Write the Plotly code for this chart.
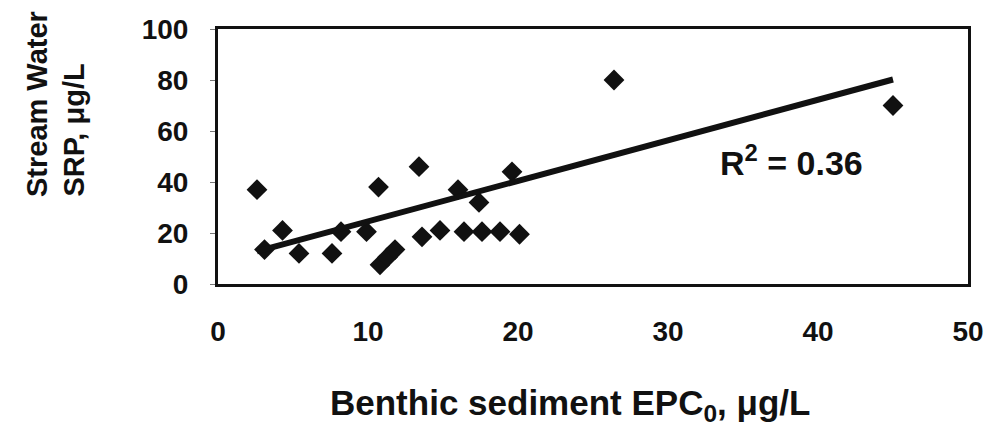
import plotly.graph_objects as go

# Data
epc0 = [2.6, 3.1, 4.3, 5.4, 7.6, 8.2, 9.9, 10.7, 10.8, 11.3, 11.8, 13.4, 13.6,
        14.8, 16.0, 16.4, 17.4, 17.6, 18.8, 19.6, 20.1, 26.4, 45.0]
srp = [37, 13.5, 21, 12, 12, 20.5, 20.5, 38, 7.5, 10.5, 13.5, 46, 18.5,
       21, 37, 20.5, 32, 20.5, 20.5, 44, 19.5, 80, 70]
trend_x = [2.6, 45.0]
trend_y = [12.8, 80.2]
r2_text = "R<sup>2</sup> = 0.36"
x_ticks = [0, 10, 20, 30, 40, 50]
y_ticks = [0, 20, 40, 60, 80, 100]

FONT = "Liberation Sans, Arial, sans-serif"

fig = go.Figure()
fig.add_trace(go.Scatter(
    x=epc0, y=srp, mode="markers",
    marker=dict(symbol="diamond", size=16, color="#111111", line=dict(width=0)),
    showlegend=False, hoverinfo="skip"))
fig.add_trace(go.Scatter(
    x=trend_x, y=trend_y, mode="lines",
    line=dict(color="#111111", width=6),
    showlegend=False, hoverinfo="skip"))

fig.update_layout(
    width=996, height=428,
    margin=dict(l=218, r=20, t=29, b=144),
    paper_bgcolor="white", plot_bgcolor="white",
    font=dict(family=FONT, color="#111111"),
)
fig.update_xaxes(
    range=[0, 50], tickvals=x_ticks, showgrid=False, zeroline=False,
    showline=True, mirror=True, linecolor="#111111", linewidth=3,
    ticks="", tickfont=dict(size=28, family=FONT, weight="bold", color="#111111"),
    ticklabelstandoff=20)
fig.update_yaxes(
    range=[0, 100], tickvals=y_ticks, showgrid=False, zeroline=False,
    showline=True, mirror=True, linecolor="#111111", linewidth=3,
    ticks="outside", ticklen=5, tickwidth=1, tickcolor="#777777",
    tickfont=dict(size=28, family=FONT, weight="bold", color="#111111"),
    ticklabelstandoff=16)

fig.add_annotation(
    text=r2_text, x=33.3, y=48.6, xref="x", yref="y",
    xanchor="left", yanchor="middle", showarrow=False,
    font=dict(size=34, family=FONT, weight="bold", color="#111111"))

fig.add_annotation(
    text="Benthic sediment EPC<sub>0</sub>, μg/L",
    x=0.4697, y=-0.4745, xref="paper", yref="paper",
    xanchor="center", yanchor="middle", showarrow=False,
    font=dict(size=35, family=FONT, weight="bold", color="#111111"))

fig.add_annotation(
    text="Stream Water", textangle=-90,
    x=-0.2414, y=0.333, xref="paper", yref="paper",
    xanchor="center", yanchor="bottom", showarrow=False,
    font=dict(size=29, family=FONT, weight="bold", color="#111111"))
fig.add_annotation(
    text="SRP, μg/L", textangle=-90,
    x=-0.192, y=0.333, xref="paper", yref="paper",
    xanchor="center", yanchor="bottom", showarrow=False,
    font=dict(size=29, family=FONT, weight="bold", color="#111111"))

fig.write_html("out.html")
